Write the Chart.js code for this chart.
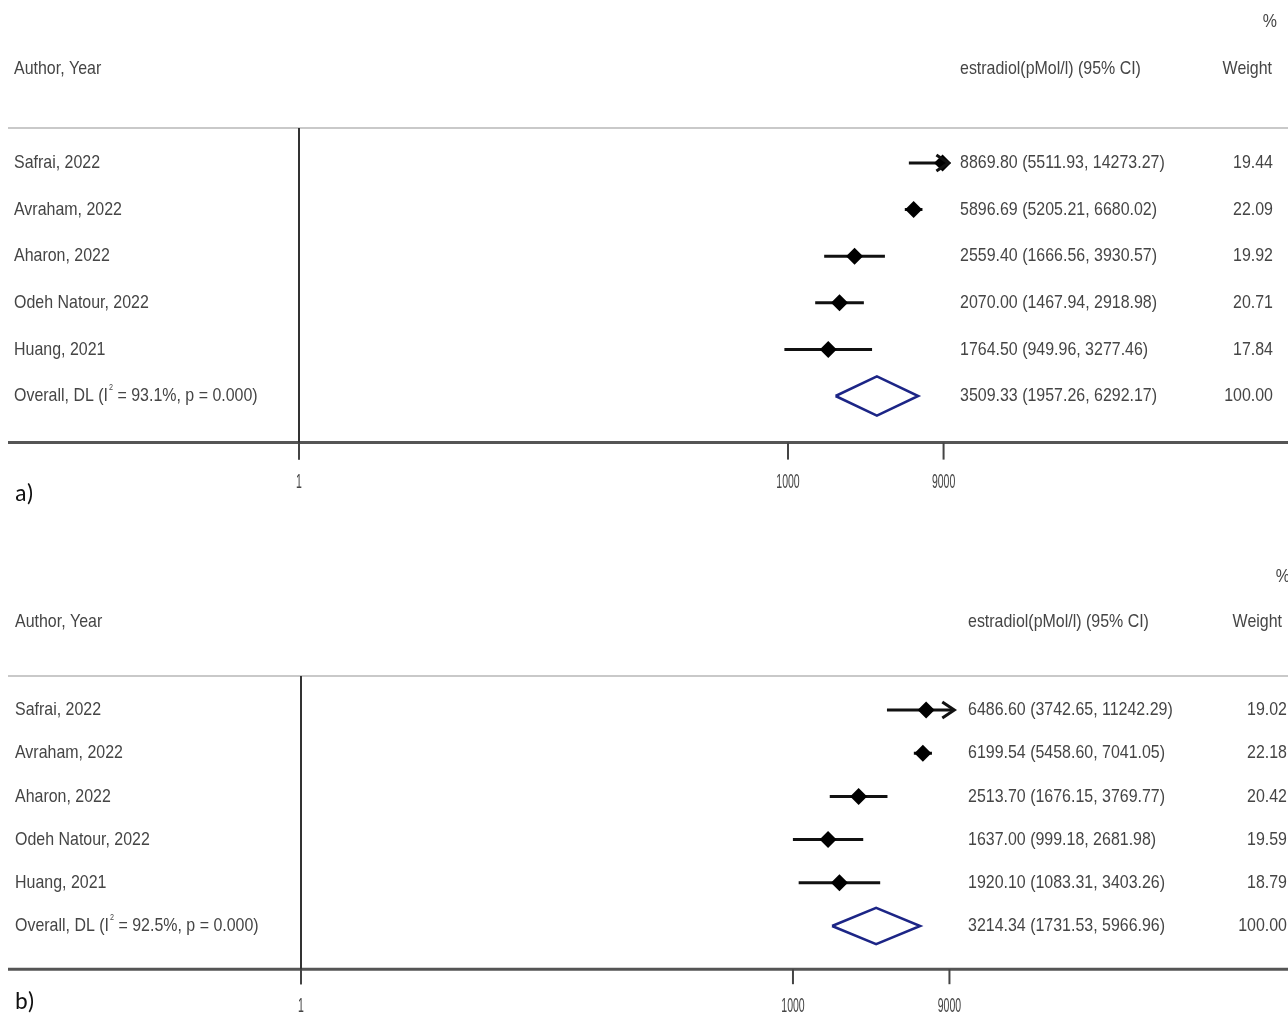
<!DOCTYPE html>
<html>
<head>
<meta charset="utf-8">
<title>Forest plots - estradiol</title>
<script src="https://cdn.jsdelivr.net/npm/chart.js@4.4.1/dist/chart.umd.min.js"></script>
<style>
  body { margin: 0; background: #fff; }
  #wrap { position: relative; width: 1288px; height: 1018px; overflow: hidden; }
  canvas { position: absolute; left: 0; }
</style>
</head>
<body>
<div id="wrap">
  <canvas id="plotA" width="1288" height="525" style="top:0"></canvas>
  <canvas id="plotB" width="1288" height="493" style="top:525px"></canvas>
</div>
<script>
// Study labels and values
const studies = ['Safrai, 2022', 'Avraham, 2022', 'Aharon, 2022', 'Odeh Natour, 2022', 'Huang, 2021'];

// panel a
const estA = [8869.80, 5896.69, 2559.40, 2070.00, 1764.50];
const lowA = [5511.93, 5205.21, 1666.56, 1467.94, 949.96];
const highA = [14273.27, 6680.02, 3930.57, 2918.98, 3277.46];
const weightA = [19.44, 22.09, 19.92, 20.71, 17.84];
const overallA = [3509.33, 1957.26, 6292.17]; // estimate, lower, upper
const i2A = '93.1%';

// panel b
const estB = [6486.60, 6199.54, 2513.70, 1637.00, 1920.10];
const lowB = [3742.65, 5458.60, 1676.15, 999.18, 1083.31];
const highB = [11242.29, 7041.05, 3769.77, 2681.98, 3403.26];
const weightB = [19.02, 22.18, 20.42, 19.59, 18.79];
const overallB = [3214.34, 1731.53, 5966.96];
const i2B = '92.5%';

const tickValues = [1, 1000, 9000];
const axisMin = 1;
const axisMax = 9500;

const TEXT = '#454545';
const FONT = 'Liberation Sans, Arial, sans-serif';
const FS = 19;    // font size of table text
const SX = 0.84;  // horizontal squeeze

// draw horizontally condensed text (the original output is squeezed)
function squeezed(ctx, text, x, y, size, sx, align) {
    ctx.save();
    ctx.font = size + 'px ' + FONT;
    ctx.fillStyle = TEXT;
    ctx.textAlign = align || 'left';
    ctx.textBaseline = 'middle';
    ctx.translate(x, y);
    ctx.scale(sx, 1);
    ctx.fillText(text, 0, 0);
    const w = ctx.measureText(text).width * sx;
    ctx.restore();
    return w;
}

function makeForest(canvasId, p, est, low, high, weight, overall, i2) {
    const rows = studies.length;
    const overallRow = rows + 1;
    const dh = 0.42; // half height of pooled diamond, in rows

    const datasets = [];
    datasets.push({
        data: est.map((v, i) => ({ x: v, y: i + 1 })),
        pointStyle: 'rectRot',
        pointRadius: 8.5,
        pointBackgroundColor: '#000',
        pointBorderColor: '#000',
        pointBorderWidth: 0,
        clip: false
    });
    est.forEach((v, i) => {
        datasets.push({
            data: [{ x: low[i], y: i + 1 }, { x: high[i], y: i + 1 }],
            showLine: true,
            borderColor: '#111',
            borderWidth: 3,
            pointRadius: 0
        });
    });
    datasets.push({
        data: [
            { x: overall[1], y: overallRow },
            { x: overall[0], y: overallRow - dh },
            { x: overall[2], y: overallRow },
            { x: overall[0], y: overallRow + dh },
            { x: overall[1], y: overallRow }
        ],
        showLine: true,
        borderColor: '#1c2586',
        borderWidth: 2.5,
        pointRadius: 0,
        tension: 0,
        clip: false
    });

    const forestText = {
        id: 'forestText',
        afterDatasetsDraw(chart) {
            const ctx = chart.ctx;
            const xs = chart.scales.x;
            const ys = chart.scales.y;
            const area = chart.chartArea;

            // header and axis lines across the full width
            ctx.save();
            ctx.strokeStyle = '#c9c9c9';
            ctx.lineWidth = 2;
            ctx.beginPath();
            ctx.moveTo(8, p.headerLine);
            ctx.lineTo(1288, p.headerLine);
            ctx.stroke();

            ctx.strokeStyle = '#555';
            ctx.lineWidth = 3;
            ctx.beginPath();
            ctx.moveTo(8, area.bottom);
            ctx.lineTo(1288, area.bottom);
            ctx.stroke();

            // null line at 1
            const x0 = xs.getPixelForValue(axisMin);
            ctx.strokeStyle = '#333';
            ctx.lineWidth = 2;
            ctx.beginPath();
            ctx.moveTo(x0, p.headerLine);
            ctx.lineTo(x0, area.bottom + p.tickLen);
            ctx.stroke();

            // ticks
            xs.ticks.forEach(t => {
                const tx = xs.getPixelForValue(t.value);
                ctx.strokeStyle = '#444';
                ctx.lineWidth = 2;
                ctx.beginPath();
                ctx.moveTo(tx, area.bottom);
                ctx.lineTo(tx, area.bottom + p.tickLen);
                ctx.stroke();
                squeezed(ctx, String(t.value), tx, area.bottom + p.tickLabelOffset, 21, 0.5, 'center');
            });

            // arrows for intervals running past the axis
            ctx.strokeStyle = '#111';
            ctx.lineWidth = 3;
            high.forEach((h, i) => {
                if (h > xs.max) {
                    const tip = area.right + 1;
                    const yy = ys.getPixelForValue(i + 1);
                    ctx.beginPath();
                    ctx.moveTo(tip - 12, yy - 8);
                    ctx.lineTo(tip, yy);
                    ctx.lineTo(tip - 12, yy + 8);
                    ctx.stroke();
                }
            });
            ctx.restore();

            // headers
            squeezed(ctx, '%', p.pctRight, p.pctY, FS, SX, 'right');
            squeezed(ctx, 'Author, Year', p.labelX, p.headY, FS, SX);
            squeezed(ctx, 'estradiol(pMol/l) (95% CI)', p.estX, p.headY, FS, SX);
            squeezed(ctx, 'Weight', p.wHeadRight, p.headY, FS, SX, 'right');

            // rows
            studies.forEach((s, i) => {
                const yy = ys.getPixelForValue(i + 1);
                squeezed(ctx, s, p.labelX, yy, FS, SX);
                squeezed(ctx, est[i].toFixed(2) + ' (' + low[i].toFixed(2) + ', ' + high[i].toFixed(2) + ')', p.estX, yy, FS, SX);
                squeezed(ctx, weight[i].toFixed(2), p.wRight, yy, FS, SX, 'right');
            });
            const yo = ys.getPixelForValue(overallRow);
            let lx = p.labelX;
            lx += squeezed(ctx, 'Overall, DL (I', lx, yo, FS, SX);
            lx += squeezed(ctx, '2', lx + 1, yo - 8, 9, 0.8) + 1;
            squeezed(ctx, ' = ' + i2 + ', p = 0.000)', lx, yo, FS, SX);
            squeezed(ctx, overall[0].toFixed(2) + ' (' + overall[1].toFixed(2) + ', ' + overall[2].toFixed(2) + ')', p.estX, yo, FS, SX);
            squeezed(ctx, weight.reduce((a, b) => a + b, 0).toFixed(2), p.wRight, yo, FS, SX, 'right');

            // panel tag
            ctx.save();
            ctx.font = '24px Carlito, "Open Sans", sans-serif';
            ctx.fillStyle = '#111';
            ctx.textBaseline = 'middle';
            ctx.fillText(p.tag, 15, p.tagY);
            ctx.restore();
        }
    };

    return new Chart(document.getElementById(canvasId), {
        type: 'scatter',
        data: { datasets: datasets },
        options: {
            responsive: false,
            animation: false,
            devicePixelRatio: 1,
            layout: {
                padding: {
                    left: p.left,
                    right: 1288 - p.right,
                    top: p.top,
                    bottom: p.height - p.bottom
                }
            },
            plugins: {
                legend: { display: false },
                tooltip: { enabled: false }
            },
            scales: {
                x: {
                    type: 'logarithmic',
                    min: axisMin,
                    max: axisMax,
                    display: false,
                    afterBuildTicks: scale => {
                        scale.ticks = tickValues.map(v => ({ value: v }));
                    }
                },
                y: {
                    type: 'linear',
                    min: 0,
                    max: rows + 2,
                    reverse: true,
                    display: false
                }
            }
        },
        plugins: [forestText]
    });
}

makeForest('plotA', {
    height: 525, left: 299, right: 947.4, top: 116.4, bottom: 442.6,
    headerLine: 128, pctY: 22, headY: 69, labelX: 14, estX: 960,
    wRight: 1273, wHeadRight: 1272, pctRight: 1277,
    tickLen: 17, tickLabelOffset: 40, tag: 'a)', tagY: 495
}, estA, lowA, highA, weightA, overallA, i2A);

makeForest('plotB', {
    height: 493, left: 301, right: 953.3, top: 141.8, bottom: 444.2,
    headerLine: 151, pctY: 52, headY: 97, labelX: 15, estX: 968,
    wRight: 1287, wHeadRight: 1282, pctRight: 1290,
    tickLen: 15, tickLabelOffset: 37, tag: 'b)', tagY: 478
}, estB, lowB, highB, weightB, overallB, i2B);
</script>
</body>
</html>
